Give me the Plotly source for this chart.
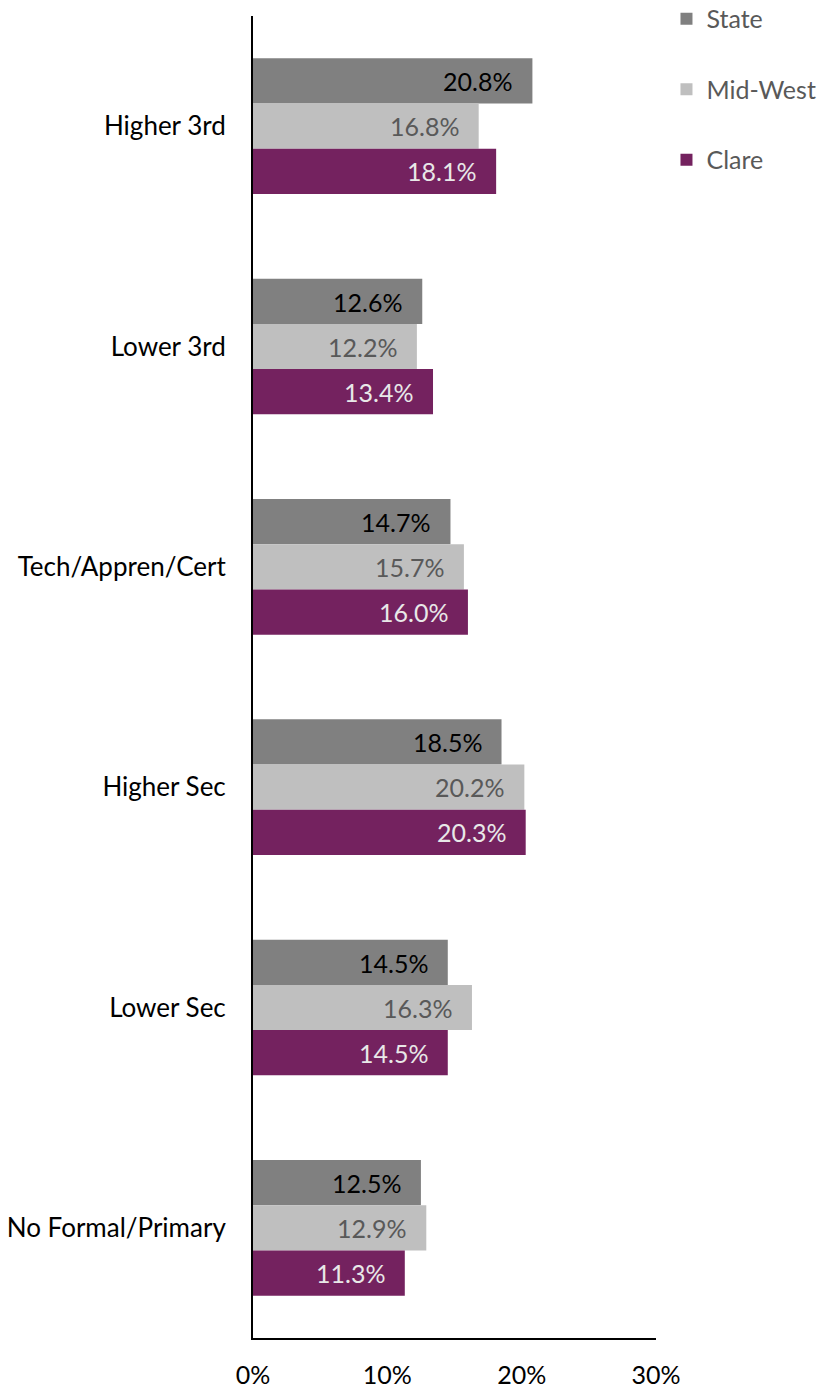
import plotly.graph_objects as go

categories = ["Higher 3rd", "Lower 3rd", "Tech/Appren/Cert", "Higher Sec", "Lower Sec", "No Formal/Primary"]
state = [20.8, 12.6, 14.7, 18.5, 14.5, 12.5]
mid_west = [16.8, 12.2, 15.7, 20.2, 16.3, 12.9]
clare = [18.1, 13.4, 16.0, 20.3, 14.5, 11.3]
x_ticks = [0, 10, 20, 30]
x_tick_labels = ["0%", "10%", "20%", "30%"]

FONT = "Lato"
series = [
    ("State", state, "#808080", "#000000", 45),
    ("Mid-West", mid_west, "#bfbfbf", "#595959", 0),
    ("Clare", clare, "#74225f", "#e8e8e8", -45),
]

fig = go.Figure()
annotations = []
for name, vals, color, tcolor, shift in series:
    fig.add_trace(go.Bar(
        y=categories, x=vals, name=name, orientation="h",
        marker=dict(color=color, line=dict(width=0)),
        legendgroup=name,
    ))
    for cat, v in zip(categories, vals):
        annotations.append(dict(
            x=v, y=cat, xref="x", yref="y", text=f"{v:.1f}%",
            showarrow=False, xanchor="right", yanchor="middle",
            xshift=-18, yshift=shift,
            font=dict(family=FONT, size=25, color=tcolor),
        ))

fig.update_layout(
    width=819, height=1389,
    margin=dict(l=253, r=163, t=16, b=51, autoexpand=False),
    paper_bgcolor="white", plot_bgcolor="white",
    barmode="group", bargap=0.384, bargroupgap=0,
    font=dict(family=FONT, size=25, color="#000000"),
    annotations=annotations,
    showlegend=True,
    legend=dict(
        x=1.026, xanchor="left", y=1.0152, yanchor="top",
        traceorder="grouped", tracegroupgap=35,
        font=dict(family=FONT, size=25, color="#595959"),
        bgcolor="rgba(0,0,0,0)",
    ),
    xaxis=dict(
        range=[0, 30], tickvals=x_ticks, ticktext=x_tick_labels,
        showgrid=False, zeroline=False,
        showline=True, linecolor="#000000", linewidth=2,
        ticks="", ticklabelstandoff=14, automargin=False,
        tickfont=dict(family=FONT, size=25, color="#000000"),
        fixedrange=True,
    ),
    yaxis=dict(
        categoryorder="array", categoryarray=categories,
        autorange="reversed",
        showgrid=False, zeroline=False,
        showline=True, linecolor="#000000", linewidth=2,
        ticks="", ticklabelstandoff=20, automargin=False,
        tickfont=dict(family=FONT, size=26, color="#000000"),
        fixedrange=True,
    ),
)

fig.write_html("out.html")
